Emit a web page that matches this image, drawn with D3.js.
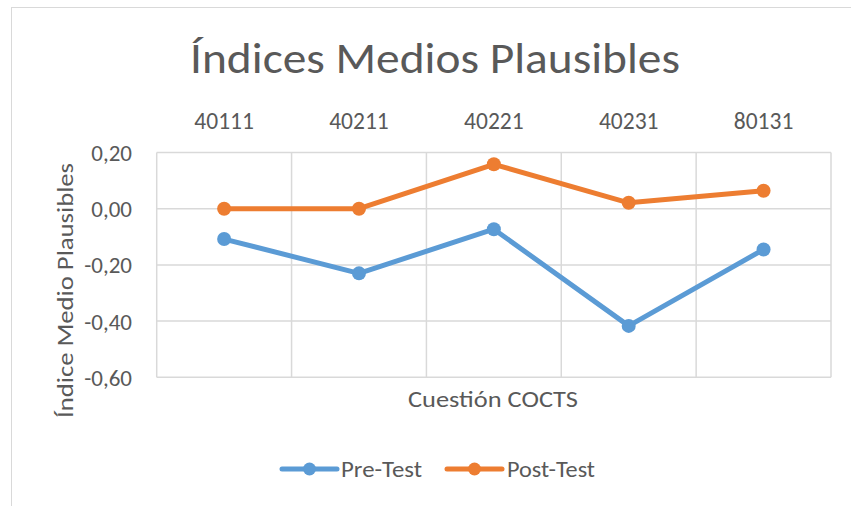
<!DOCTYPE html>
<html>
<head>
<meta charset="utf-8">
<script src="https://cdn.jsdelivr.net/npm/d3@7"></script>
<style>
  html, body { margin: 0; padding: 0; background: #ffffff; }
  svg { display: block; }
  text { font-family: Carlito, Calibri, "Open Sans", sans-serif; fill: #595959; }
</style>
</head>
<body>
<svg id="chart" width="851" height="506"></svg>
<script>
const categories = ["40111", "40211", "40221", "40231", "80131"];
const preTest = [-0.108, -0.23, -0.073, -0.417, -0.145];
const postTest = [0.0, 0.0, 0.158, 0.021, 0.064];
const yTicks = [0.2, 0.0, -0.2, -0.4, -0.6];
const seriesNames = ["Pre-Test", "Post-Test"];
const seriesColors = ["#5B9BD5", "#ED7D31"];
const titleText = "Índices Medios Plausibles";
const xTitle = "Cuestión COCTS";
const yTitle = "Índice Medio Plausibles";

const svg = d3.select("#chart");
const plot = { left: 156.7, right: 831, top: 152.5, bottom: 377.3 };

const locale = d3.formatLocale({ decimal: ",", thousands: ".", grouping: [3], currency: ["", "€"], minus: "-" });
const fmt = locale.format(".2f");

// chart area border
svg.append("rect")
  .attr("x", 11.5).attr("y", 7.5)
  .attr("width", 860).attr("height", 520)
  .attr("fill", "#ffffff")
  .attr("stroke", "#d9d9d9").attr("stroke-width", 1);

const x = d3.scaleBand().domain(categories).range([plot.left, plot.right]);
const y = d3.scaleLinear().domain([-0.6, 0.2]).range([plot.bottom, plot.top]);

// horizontal gridlines
svg.append("g").selectAll("line").data(yTicks).join("line")
  .attr("x1", plot.left).attr("x2", plot.right)
  .attr("y1", d => y(d)).attr("y2", d => y(d))
  .attr("stroke", "#d9d9d9").attr("stroke-width", 1.5);

// vertical gridlines at category boundaries
const bounds = categories.map(c => x(c)).concat([x(categories[categories.length - 1]) + x.bandwidth()]);
svg.append("g").selectAll("line").data(bounds).join("line")
  .attr("x1", d => d).attr("x2", d => d)
  .attr("y1", plot.top).attr("y2", plot.bottom)
  .attr("stroke", "#d9d9d9").attr("stroke-width", 1.5);

// y axis labels
const yAxis = d3.axisLeft(y).tickValues(yTicks).tickFormat(fmt).tickSize(0).tickPadding(0);
const gy = svg.append("g").attr("transform", `translate(132,0)`).call(yAxis);
gy.select(".domain").remove();
gy.selectAll("text").style("font-size", "23px").attr("fill", "#595959")
  .attr("font-family", null).attr("dy", "0.35em");

// category labels (top)
const xAxis = d3.axisTop(x).tickSize(0).tickPadding(0);
const gx = svg.append("g").attr("transform", `translate(0,128.5)`).call(xAxis);
gx.select(".domain").remove();
gx.selectAll("text").style("font-size", "23.5px").attr("fill", "#595959")
  .attr("font-family", null).attr("dy", "0");

// title
svg.append("text")
  .attr("x", 435).attr("y", 73)
  .attr("text-anchor", "middle")
  .attr("textLength", 490).attr("lengthAdjust", "spacingAndGlyphs")
  .style("font-size", "43px")
  .text(titleText);

// x axis title
svg.append("text")
  .attr("x", 493).attr("y", 407)
  .attr("text-anchor", "middle")
  .attr("textLength", 170).attr("lengthAdjust", "spacingAndGlyphs")
  .style("font-size", "23px")
  .text(xTitle);

// y axis title
svg.append("text")
  .attr("transform", "translate(73,290.5) rotate(-90)")
  .attr("text-anchor", "middle")
  .attr("textLength", 255).attr("lengthAdjust", "spacingAndGlyphs")
  .style("font-size", "23px")
  .text(yTitle);

// series
const series = [preTest, postTest];
const line = d3.line().x((d, i) => x(categories[i]) + x.bandwidth() / 2).y(d => y(d));
series.forEach((vals, si) => {
  const g = svg.append("g");
  g.append("path").datum(vals)
    .attr("d", line)
    .attr("fill", "none")
    .attr("stroke", seriesColors[si])
    .attr("stroke-width", 5)
    .attr("stroke-linejoin", "round");
  g.selectAll("circle").data(vals).join("circle")
    .attr("cx", (d, i) => x(categories[i]) + x.bandwidth() / 2)
    .attr("cy", d => y(d))
    .attr("r", 7)
    .attr("fill", seriesColors[si]);
});

// legend
const legendItems = [
  { x0: 282, tx: 341, w: 81 },
  { x0: 447, tx: 507, w: 88 }
];
legendItems.forEach((it, i) => {
  const g = svg.append("g");
  g.append("line")
    .attr("x1", it.x0).attr("x2", it.x0 + 55)
    .attr("y1", 469).attr("y2", 469)
    .attr("stroke", seriesColors[i]).attr("stroke-width", 5)
    .attr("stroke-linecap", "round");
  g.append("circle").attr("cx", it.x0 + 27.5).attr("cy", 469).attr("r", 6.5)
    .attr("fill", seriesColors[i]);
  g.append("text").attr("x", it.tx).attr("y", 477)
    .attr("textLength", it.w).attr("lengthAdjust", "spacingAndGlyphs")
    .style("font-size", "23px")
    .text(seriesNames[i]);
});
</script>
</body>
</html>
